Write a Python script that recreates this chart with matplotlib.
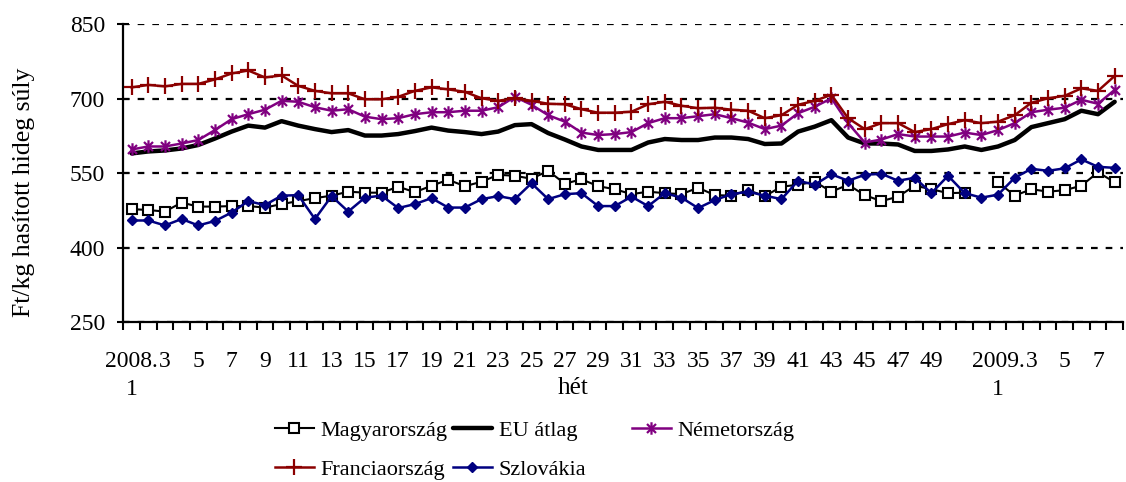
import numpy as np
import matplotlib
matplotlib.use("Agg")
import matplotlib.pyplot as plt
from matplotlib.path import Path

plt.rcParams['font.family'] = ['Liberation Serif', 'DejaVu Serif']

# ---- data ----
weeks_2008 = list(range(1, 53))
weeks_2009 = list(range(1, 9))
tick_labels = []
for i, w in enumerate(weeks_2008 + weeks_2009):
    if i == 0:
        tick_labels.append("2008.\n1")
    elif i == 52:
        tick_labels.append("2009.\n1")
    elif i % 2 == 0 and i != 50:
        tick_labels.append(str(w))
    else:
        tick_labels.append("")

nan = np.nan
magyarorszag = [478, 476, 473, 491, 483, 483, 484, 484, 481, 488,
                494, 500, 505, 513, 511, 511, 523, 512, 525, 537,
                524, 533, 547, 545, 539, 555, 529, 538, 524, 518,
                508, 513, 510, 508, 521, 506, 505, 516, 504, 523,
                527, 533, 513, 527, 506, 494, 503, 525, 518, 510,
                511, nan, 532, 505, 518, 513, 516, 525, 552, 532]
eu_atlag = [590, 594, 596, 600, 607, 620, 634, 646, 642, 655,
            646, 639, 633, 637, 626, 626, 629, 635, 642, 636,
            633, 629, 634, 647, 649, 631, 618, 604, 597, 597,
            597, 612, 619, 617, 617, 622, 622, 619, 609, 610,
            634, 644, 657, 622, 610, 610, 608, 595, 595, 598,
            604, 597, 604, 617, 643, 651, 659, 676, 669, 694]
nemetorszag = [598, 604, 604, 610, 617, 637, 659, 669, 678, 696,
               694, 683, 676, 679, 664, 659, 661, 669, 673, 673,
               676, 676, 683, 704, 688, 667, 654, 632, 627, 629,
               633, 651, 661, 661, 665, 669, 661, 652, 639, 646,
               671, 684, 701, 651, 612, 618, 629, 624, 624, 624,
               632, 627, 637, 651, 673, 678, 682, 698, 690, 718]
franciaorszag = [723, 728, 725, 730, 730, 739, 751, 757, 743, 747,
                 726, 716, 711, 711, 699, 699, 704, 716, 723, 719,
                 714, 701, 696, 701, 696, 690, 689, 679, 672, 672,
                 674, 689, 694, 686, 681, 682, 678, 676, 661, 667,
                 688, 696, 708, 661, 639, 651, 651, 633, 639, 649,
                 657, 651, 654, 667, 692, 701, 706, 721, 716, 746]
szlovakia = [455, 455, 445, 458, 445, 454, 471, 494, 486, 505,
             506, 458, 504, 473, 501, 505, 480, 488, 500, 481,
             481, 498, 504, 498, 530, 498, 508, 510, 484, 484,
             503, 484, 510, 501, 480, 496, 508, 513, 505, 498,
             535, 527, 548, 535, 547, 549, 535, 541, 510, 545,
             510, 501, 507, 541, 559, 555, 560, 578, 563, 561]

y_ticks = [250, 400, 550, 700, 850]
x_label = "hét"
y_label = "Ft/kg hasított hideg súly"

# ---- figure ----
W, H = 1126, 482
fig = plt.figure(figsize=(W / 100, H / 100), dpi=100)
ax_l, ax_r, ax_t, ax_b = 123.3, 1123.0, 24.3, 322.3
ax = fig.add_axes([ax_l / W, 1 - ax_b / H, (ax_r - ax_l) / W, (ax_b - ax_t) / H])

x = np.arange(len(tick_labels))

star = Path([(0, -1), (0, 1), (-0.72, -0.72), (0.72, 0.72), (-0.72, 0.72), (0.72, -0.72)],
            [Path.MOVETO, Path.LINETO, Path.MOVETO, Path.LINETO, Path.MOVETO, Path.LINETO])

navy = '#000080'
purple = '#800080'
darkred = '#8B0000'

l_hu, = ax.plot(x, magyarorszag, color='black', lw=1.5, marker='s', ms=6.5,
                mfc='white', mec='black', mew=1.5, label='Magyarország', zorder=3)
l_eu, = ax.plot(x, eu_atlag, color='black', lw=3.2, label='EU átlag', zorder=4,
                solid_capstyle='round')
l_de, = ax.plot(x, nemetorszag, color=purple, lw=1.8, marker=star, ms=9,
                mec=purple, mew=1.6, label='Németország', zorder=5)
l_fr, = ax.plot(x, franciaorszag, color=darkred, lw=1.8, marker='+', ms=12,
                mec=darkred, mew=1.6, label='Franciaország', zorder=5)
l_sk, = ax.plot(x, szlovakia, color=navy, lw=1.8, marker='D', ms=5.5,
                mfc=navy, mec=navy, label='Szlovákia', zorder=6)

ax.set_xlim(-0.5, len(x) - 0.5)
ax.set_ylim(y_ticks[0], y_ticks[-1])
ax.set_yticks(y_ticks)
ax.set_xticks(x)
ax.set_xticklabels(tick_labels, fontsize=17, linespacing=1.4, va='top')
ax.set_xticks(np.arange(-0.5, len(x), 1), minor=True)
ax.tick_params(axis='x', which='major', length=0, pad=21)
ax.tick_params(axis='x', which='minor', length=5.5, width=1.5, direction='out')
ax.tick_params(axis='y', which='major', length=8.5, width=1.5, direction='inout',
               labelsize=17, pad=9)

for s in ['top', 'right']:
    ax.spines[s].set_visible(False)
for s in ['left', 'bottom']:
    ax.spines[s].set_linewidth(1.6)

ax.yaxis.grid(True, color='black', lw=1.6, linestyle=(0, (3.0, 3.6)), zorder=0)
ax.set_axisbelow(True)

fig.text(573 / W, 1 - 388 / H, x_label, fontsize=18, ha='center', va='center')
fig.text(24 / W, 1 - 192 / H, y_label, fontsize=18.5, rotation=90, ha='center', va='center')

leg_kw = dict(frameon=False, fontsize=16, handlelength=1.75, handletextpad=0.3,
              labelspacing=0.85, borderpad=0, borderaxespad=0, loc='upper left')
fig.legend([l_hu, l_fr], ['Magyarország', 'Franciaország'],
           bbox_to_anchor=(275 / W, 1 - 420 / H), **leg_kw)
fig.legend([l_eu, l_sk], ['EU átlag', 'Szlovákia'],
           bbox_to_anchor=(453 / W, 1 - 420 / H), **leg_kw)
fig.legend([l_de], ['Németország'],
           bbox_to_anchor=(632 / W, 1 - 420 / H), **leg_kw)

fig.savefig('out.png', dpi=100)
